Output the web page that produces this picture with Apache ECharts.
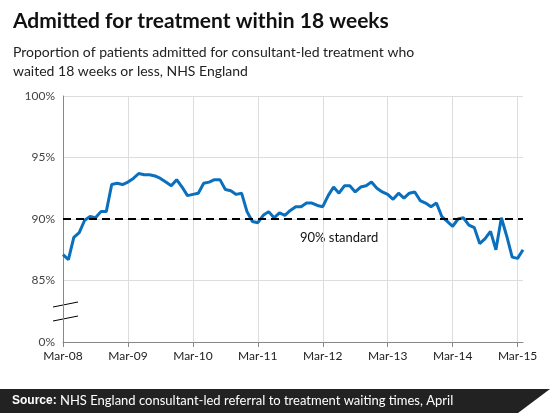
<!DOCTYPE html><html><head><meta charset="utf-8">
<script src="https://cdn.jsdelivr.net/npm/echarts@6/dist/echarts.min.js"></script>
<style>body{margin:0}#c{width:550px;height:413px}</style></head><body><div id="c"></div>
<script>
const values=[87.1,86.7,88.5,88.9,89.9,90.2,90.1,90.6,90.6,92.8,92.9,92.8,93.0,93.3,93.7,93.6,93.6,93.5,93.3,93.0,92.7,93.2,92.6,91.9,92.0,92.1,92.9,93.0,93.2,93.2,92.4,92.3,92.0,92.1,90.6,89.8,89.7,90.3,90.6,90.1,90.5,90.3,90.7,91.0,91.0,91.3,91.3,91.1,91.0,91.9,92.6,92.1,92.7,92.7,92.2,92.6,92.7,93.0,92.5,92.2,92.0,91.6,92.1,91.7,92.1,92.2,91.5,91.3,91.0,91.3,90.2,89.8,89.4,90.0,90.1,89.5,89.3,88.0,88.4,89.0,87.5,90.1,88.6,86.9,86.8,87.5];
const mon=['Mar','Apr','May','Jun','Jul','Aug','Sep','Oct','Nov','Dec','Jan','Feb'];
const categories=values.map((v,i)=>{const m=i%12;const y=8+Math.floor((i+2)/12);return mon[m]+'-'+String(y).padStart(2,'0');});
const yTicks={80:'0%',85:'85%',90:'90%',95:'95%',100:'100%'};
const standard=90;
const c=echarts.init(document.getElementById('c'));
const F='Lato, sans-serif';
c.setOption({animation:false,backgroundColor:'#fff',
title:[{text:'Admitted for treatment within 18 weeks',left:8,top:6,textStyle:{fontFamily:F,fontSize:21,fontWeight:'bold',color:'#111'}},
{text:'Proportion of patients admitted for consultant-led treatment who\nwaited 18 weeks or less, NHS England',left:8,top:38,textStyle:{fontFamily:F,fontSize:14,fontWeight:'normal',color:'#222',lineHeight:19}}],
grid:{left:63,right:27,top:96,bottom:71},
xAxis:{type:'category',data:categories,boundaryGap:false,
axisLine:{lineStyle:{color:'#888'}},axisTick:{interval:(i)=>i%12===0,lineStyle:{color:'#888'}},
axisLabel:{interval:(i)=>i%12===0,color:'#222',fontFamily:F,fontSize:12},
splitLine:{show:true,interval:(i)=>i%12===0&&i>0,lineStyle:{color:'#ddd'}}},
yAxis:{type:'value',min:80,max:100,interval:5,
axisLine:{show:true,lineStyle:{color:'#888'}},axisTick:{show:false},
axisLabel:{formatter:v=>yTicks[v],color:'#444',fontFamily:F,fontSize:12},
splitLine:{lineStyle:{color:'#ddd'}}},
series:[{type:'line',data:values,symbol:'none',lineStyle:{color:'#0a6fbd',width:3},
markLine:{silent:true,symbol:'none',data:[{yAxis:standard}],lineStyle:{color:'#000',type:[8,5],width:2},label:{show:false}}}],
graphic:[
{type:'line',shape:{x1:53,y1:307,x2:78,y2:302},style:{stroke:'#000',lineWidth:1}},
{type:'line',shape:{x1:53,y1:321,x2:78,y2:316},style:{stroke:'#000',lineWidth:1}},
{type:'rect',shape:{x:62,y:308,width:3,height:8},style:{fill:'#fff'}},
{type:'text',left:300,top:231,style:{text:'90% standard',font:'13px Lato, sans-serif',fill:'#111'}},
{type:'rect',shape:{x:0,y:389,width:550,height:24},style:{fill:'#222'}},
{type:'polygon',shape:{points:[[550,389],[550,413],[518,413]]},style:{fill:'#fff'}},
{type:'text',left:12,top:394,style:{rich:{b:{fontWeight:'bold',fill:'#fff',font:'bold 13px Lato, sans-serif'},n:{fill:'#fff',font:'13px Lato, sans-serif'}},text:'{b|Source:} {n|NHS England consultant-led referral to treatment waiting times, April}'}}
]});
</script></body></html>
